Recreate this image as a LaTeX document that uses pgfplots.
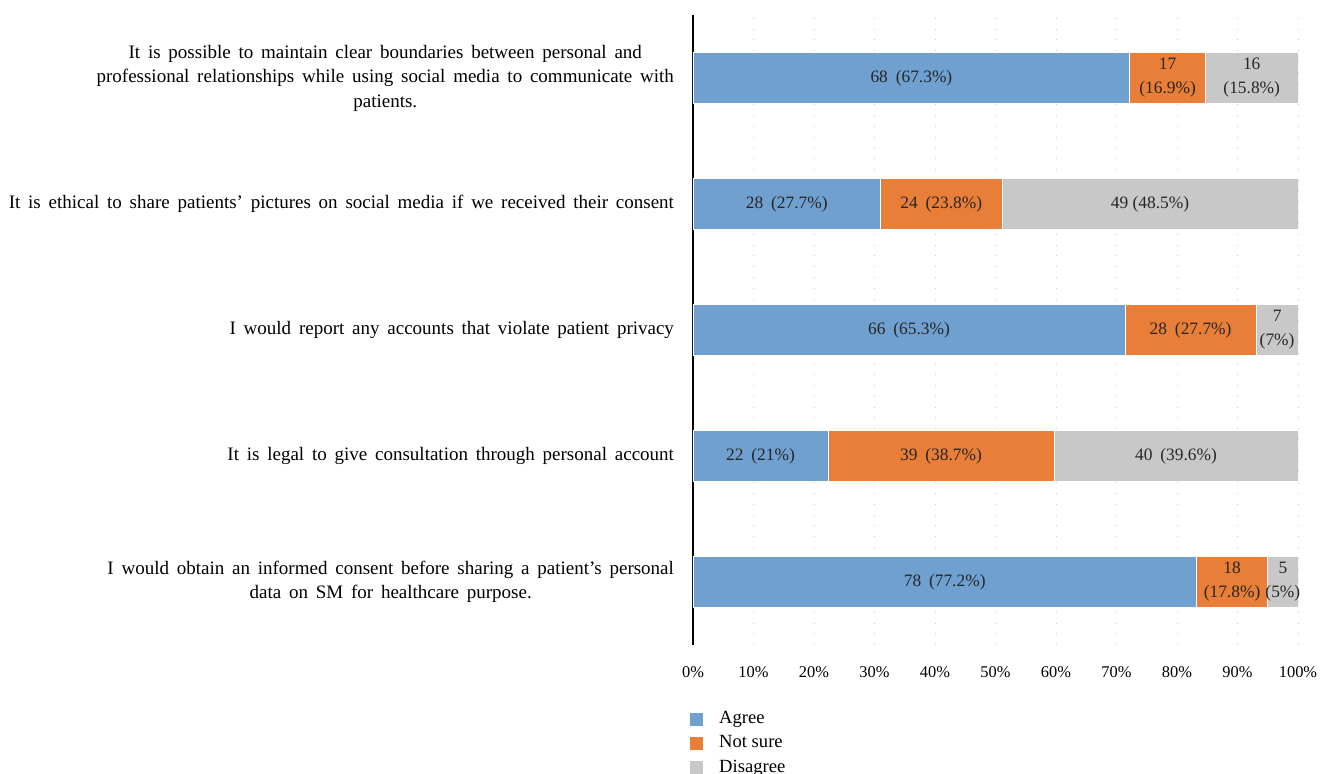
\documentclass[border=0pt]{standalone}
\usepackage{pgfplots}
\pgfplotsset{compat=1.18}
\usepackage{fontspec}
\setmainfont{Liberation Serif}
\definecolor{cAgree}{RGB}{112,160,208}
\definecolor{cNot}{RGB}{232,126,55}
\definecolor{cDis}{RGB}{200,200,200}
\DeclareRobustCommand\wsp{\spaceskip=0.41em plus 0.1em\relax}
\begin{document}
\begin{tikzpicture}[lbl/.style={align=center, font=\fontsize{8.7}{12}\selectfont, text=black!85}]
\begin{axis}[
  scale only axis, width=302.5pt, height=315pt,
  xbar stacked, bar width=25.5pt,
  xmin=0, xmax=100, ymin=-0.5, ymax=4.5,
  axis lines*=left,
  x axis line style={draw=none},
  y axis line style={black, line width=0.6pt},
  tick style={draw=none},
  xmajorgrids, major grid style={gray!40, line width=0.4pt, dash pattern=on 0.4pt off 5pt},
  xtick={0,10,20,30,40,50,60,70,80,90,100},
  xticklabels={0\%,10\%,20\%,30\%,40\%,50\%,60\%,70\%,80\%,90\%,100\%},
  xticklabel style={font=\fontsize{8.2}{10}\selectfont, yshift=-7.3pt},
  ytick={0,1,2,3,4},
  yticklabels={
    {\wsp I would obtain an informed consent before sharing a patient’s personal\\\wsp data on SM for healthcare purpose.},
    {\wsp It is legal to give consultation through personal account},
    {\wsp I would report any accounts that violate patient privacy},
    {\wsp It is ethical to share patients’ pictures on social media if we received their consent},
    {\wsp It is possible to maintain clear boundaries between personal and\\\wsp professional relationships while using social media to communicate with\\\wsp patients.}},
  yticklabel style={align=center, font=\fontsize{9.5}{12.25}\selectfont, xshift=-6pt},
  legend style={at={(0,0)}, anchor=north west, draw=none, fill=none, yshift=-29pt, xshift=-5pt,
    font=\fontsize{9.3}{10}\selectfont, row sep=0.5pt},
  legend cell align=left,
  legend image code/.code={\fill[#1] (0pt,-3.5pt) rectangle (7pt,3.5pt);},
]
\addplot[fill=cAgree, draw=white, line width=0.4pt] coordinates {(83.2,0) (22.3,1) (71.4,2) (31.0,3) (72.2,4)};
\addlegendentry{\hspace{5.5pt}Agree}
\addplot[fill=cNot, draw=white, line width=0.4pt] coordinates {(11.8,0) (37.4,1) (21.7,2) (20.1,3) (12.5,4)};
\addlegendentry{\hspace{5.5pt}Not sure}
\addplot[fill=cDis, draw=white, line width=0.4pt] coordinates {(5.0,0) (40.3,1) (6.9,2) (48.9,3) (15.3,4)};
\addlegendentry{\hspace{5.5pt}Disagree}
\end{axis}
\begin{axis}[
  scale only axis, width=302.5pt, height=315pt,
  xmin=0, xmax=100, ymin=-0.5, ymax=4.5, hide axis, clip=false]
\node[lbl] at (axis cs:36.1,4) {68\hspace{0.45em}(67.3\%)};
\node[lbl] at (axis cs:78.45,4) {17\\(16.9\%)};
\node[lbl] at (axis cs:92.35,4) {16\\(15.8\%)};
\node[lbl] at (axis cs:15.5,3) {28\hspace{0.45em}(27.7\%)};
\node[lbl] at (axis cs:41.05,3) {24\hspace{0.45em}(23.8\%)};
\node[lbl] at (axis cs:75.55,3) {49 (48.5\%)};
\node[lbl] at (axis cs:35.7,2) {66\hspace{0.45em}(65.3\%)};
\node[lbl] at (axis cs:82.25,2) {28\hspace{0.45em}(27.7\%)};
\node[lbl] at (axis cs:96.55,2) {7\\(7\%)};
\node[lbl] at (axis cs:11.15,1) {22\hspace{0.45em}(21\%)};
\node[lbl] at (axis cs:41.0,1) {39\hspace{0.45em}(38.7\%)};
\node[lbl] at (axis cs:79.85,1) {40\hspace{0.45em}(39.6\%)};
\node[lbl] at (axis cs:41.6,0) {78\hspace{0.45em}(77.2\%)};
\node[lbl] at (axis cs:89.1,0) {18\\(17.8\%)};
\node[lbl] at (axis cs:97.5,0) {5\\(5\%)};
\end{axis}
\pgfresetboundingbox
\path[use as bounding box] (-346.5pt,-64.5pt) rectangle (314pt,322.5pt);
\end{tikzpicture}
\end{document}
